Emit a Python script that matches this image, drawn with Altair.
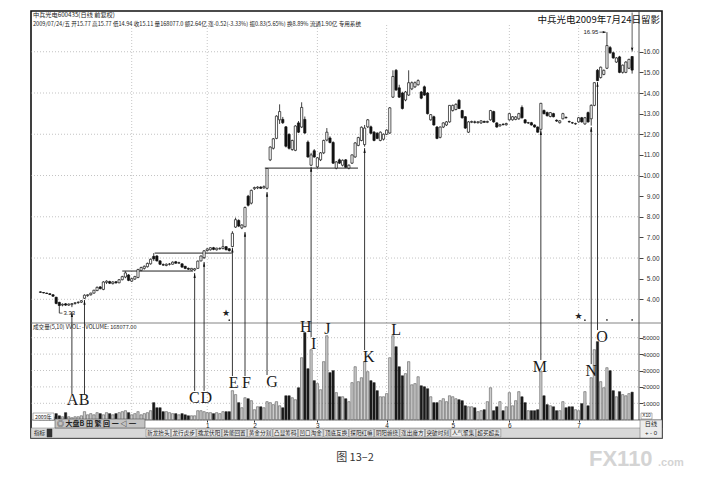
import altair as alt
import pandas as pd

# ---------------- data ----------------
OPEN = [4.36, 4.33, 4.30, 4.27, 4.22, 4.10, 3.85, 3.72, 3.78, 3.72,
        3.74, 3.80, 3.84, 3.86, 4.05, 4.18, 4.22, 4.30, 4.42, 4.60,
        4.48, 4.82, 4.86, 4.76, 4.85, 4.80, 4.95, 5.08, 5.18, 4.88,
        4.98, 5.06, 5.40, 5.50, 5.58, 5.72, 6.08, 6.10, 5.86, 5.68,
        5.64, 5.70, 5.70, 5.82, 5.75, 5.72, 5.60, 5.50, 5.42, 5.42,
        5.50, 5.86, 6.02, 6.36, 6.40, 6.50, 6.40, 6.45, 6.46, 6.55,
        6.45, 6.56, 7.50, 7.82, 7.46, 7.52, 9.00, 8.66, 9.36, 9.40,
        9.44, 9.40, 9.38, 10.76, 11.32, 11.80, 12.70, 12.72, 12.36, 12.00,
        11.26, 11.22, 12.55, 12.35, 12.72, 11.62, 10.50, 11.20, 10.42, 10.76,
        11.10, 11.72, 11.82, 11.60, 10.36, 10.76, 10.50, 10.76, 10.36, 10.60,
        10.90, 11.46, 11.70, 11.50, 12.36, 12.36, 12.10, 12.05, 11.70, 11.76,
        12.00, 12.06, 13.80, 15.10, 14.25, 14.00, 13.66, 13.90, 14.20, 14.30,
        14.40, 14.05, 14.30, 14.00, 12.70, 12.85, 12.35, 11.85, 12.35, 12.45,
        12.60, 13.15, 13.20, 13.65, 13.15, 12.85, 12.10, 12.58, 12.60, 12.56,
        12.55, 12.62, 12.58, 12.70, 13.10, 12.55, 12.40, 12.48, 12.46, 12.70,
        12.70, 12.72, 12.75, 13.30, 12.70, 12.55, 12.56, 12.45, 12.35, 12.24,
        13.15, 13.05, 12.86, 13.00, 12.68, 12.56, 12.75, 12.82, 12.62, 12.56,
        12.50, 12.60, 12.80, 12.50, 13.05, 12.75, 13.40, 15.10, 14.75, 14.90,
        15.20, 16.20, 15.95, 15.50, 15.75, 15.00, 15.00, 15.20, 15.77]
HIGH = [4.38, 4.35, 4.32, 4.29, 4.25, 4.12, 3.88, 3.80, 3.82, 3.80,
        3.82, 3.86, 3.90, 3.96, 4.24, 4.24, 4.32, 4.46, 4.62, 4.64,
        4.88, 4.92, 4.90, 4.88, 4.88, 4.98, 5.14, 5.36, 5.22, 5.04,
        5.14, 5.48, 5.58, 5.64, 5.78, 5.98, 6.24, 6.14, 5.90, 5.74,
        5.74, 5.76, 5.84, 5.86, 5.82, 5.74, 5.62, 5.54, 5.52, 5.52,
        5.88, 6.12, 6.38, 6.48, 6.52, 6.54, 6.50, 6.52, 6.90, 6.58,
        6.48, 7.30, 7.96, 7.88, 7.64, 8.50, 9.06, 9.32, 9.46, 9.48,
        9.48, 9.52, 10.36, 11.42, 11.82, 12.92, 13.45, 12.84, 12.40, 12.04,
        11.74, 12.44, 12.64, 13.55, 12.86, 11.70, 11.10, 11.28, 10.90, 11.14,
        11.74, 12.30, 11.90, 11.66, 10.70, 10.82, 10.78, 10.80, 10.54, 11.02,
        11.62, 11.88, 12.38, 12.45, 12.74, 12.42, 12.16, 12.10, 12.14, 12.04,
        12.24, 13.32, 15.10, 15.16, 14.40, 14.06, 14.10, 15.10, 14.56, 14.56,
        14.66, 14.10, 14.36, 14.04, 12.98, 12.90, 12.40, 12.38, 12.58, 12.64,
        13.42, 13.44, 13.50, 13.70, 13.18, 12.88, 12.64, 12.66, 12.66, 12.64,
        12.68, 12.66, 12.66, 13.18, 13.14, 12.58, 12.50, 12.54, 12.56, 13.02,
        12.88, 12.88, 13.04, 13.40, 12.74, 12.60, 12.60, 12.48, 12.38, 13.52,
        13.20, 13.10, 13.08, 13.04, 12.72, 12.68, 13.04, 12.86, 12.66, 12.60,
        12.56, 12.84, 12.84, 12.84, 13.10, 13.45, 14.52, 15.16, 15.28, 15.14,
        16.95, 16.28, 16.00, 15.74, 15.80, 15.38, 15.54, 15.66, 15.77]
LOW = [4.32, 4.29, 4.26, 4.21, 4.12, 3.76, 3.33, 3.66, 3.68, 3.68,
       3.62, 3.74, 3.78, 3.82, 4.02, 4.12, 4.18, 4.28, 4.40, 4.48,
       4.44, 4.74, 4.74, 4.72, 4.76, 4.78, 4.92, 5.02, 4.88, 4.84,
       4.94, 5.02, 5.36, 5.44, 5.54, 5.68, 5.86, 5.84, 5.66, 5.62,
       5.60, 5.64, 5.68, 5.72, 5.72, 5.54, 5.46, 5.42, 5.40, 5.36,
       5.48, 5.84, 5.95, 6.32, 6.36, 6.38, 6.36, 6.40, 6.42, 6.38,
       6.32, 6.54, 7.46, 7.50, 7.40, 7.48, 8.50, 8.60, 9.30, 9.34,
       9.36, 9.36, 9.32, 10.70, 11.26, 11.76, 12.50, 12.50, 11.36, 11.26,
       11.20, 11.18, 12.06, 12.30, 12.02, 10.86, 10.45, 10.86, 10.36, 10.70,
       11.04, 11.66, 11.56, 10.56, 10.30, 10.56, 10.44, 10.38, 10.30, 10.56,
       10.86, 11.42, 11.66, 11.40, 12.30, 12.00, 11.66, 11.76, 11.66, 11.70,
       11.96, 12.02, 13.76, 14.10, 13.76, 13.20, 13.60, 13.86, 14.14, 14.24,
       14.36, 13.70, 13.86, 12.96, 12.66, 12.42, 11.76, 11.80, 12.30, 12.40,
       12.56, 13.10, 13.16, 13.22, 12.76, 12.26, 12.06, 12.54, 12.52, 12.52,
       12.50, 12.56, 12.54, 12.66, 12.56, 12.32, 12.38, 12.44, 12.42, 12.66,
       12.66, 12.68, 12.70, 12.76, 12.52, 12.50, 12.42, 12.32, 12.08, 12.22,
       12.96, 12.86, 12.82, 12.82, 12.60, 12.52, 12.72, 12.76, 12.56, 12.50,
       12.46, 12.56, 12.56, 12.46, 12.56, 12.42, 13.36, 14.58, 14.70, 14.86,
       15.16, 15.90, 15.66, 15.46, 14.96, 14.94, 14.96, 15.16, 14.94]
CLOSE = [4.34, 4.31, 4.28, 4.23, 4.15, 3.80, 3.70, 3.76, 3.72, 3.77,
         3.79, 3.83, 3.86, 3.93, 4.20, 4.22, 4.30, 4.44, 4.58, 4.52,
         4.84, 4.88, 4.78, 4.84, 4.80, 4.95, 5.10, 5.28, 4.92, 5.00,
         5.10, 5.44, 5.54, 5.60, 5.74, 5.94, 5.96, 5.86, 5.70, 5.66,
         5.70, 5.71, 5.80, 5.75, 5.78, 5.56, 5.50, 5.46, 5.50, 5.48,
         5.85, 6.10, 6.35, 6.44, 6.50, 6.42, 6.48, 6.47, 6.55, 6.40,
         6.36, 7.20, 7.86, 7.55, 7.60, 8.45, 8.56, 9.28, 9.42, 9.44,
         9.38, 9.46, 10.34, 11.38, 11.78, 12.88, 13.10, 12.56, 11.42, 11.32,
         11.70, 12.40, 12.10, 13.30, 12.06, 10.90, 11.00, 10.90, 10.86, 11.10,
         11.70, 12.10, 11.60, 10.60, 10.66, 10.60, 10.74, 10.40, 10.50, 11.00,
         11.58, 11.84, 12.34, 12.30, 12.70, 12.05, 11.70, 11.80, 12.10, 12.00,
         12.20, 13.28, 14.80, 14.15, 13.80, 13.25, 14.05, 14.50, 14.50, 14.50,
         14.60, 13.75, 13.90, 13.00, 12.95, 12.45, 11.80, 12.35, 12.55, 12.60,
         13.40, 13.40, 13.45, 13.25, 12.80, 12.30, 12.60, 12.62, 12.58, 12.60,
         12.65, 12.58, 12.62, 13.15, 12.60, 12.35, 12.46, 12.46, 12.52, 13.00,
         12.85, 12.84, 13.00, 12.80, 12.55, 12.56, 12.45, 12.35, 12.10, 13.50,
         13.00, 12.90, 13.05, 12.85, 12.64, 12.65, 13.00, 12.80, 12.60, 12.55,
         12.52, 12.80, 12.60, 12.80, 12.60, 13.40, 14.50, 14.60, 15.25, 15.10,
         16.30, 15.95, 15.70, 15.70, 15.00, 15.35, 15.50, 15.63, 15.11]
VOLUME = [12000, 12000, 18000, 12000, 18000, 37000, 24000, 18000, 43000, 18000,
          12000, 18000, 18000, 24000, 49000, 30000, 37000, 30000, 43000, 37000,
          30000, 43000, 37000, 30000, 37000, 43000, 49000, 55000, 43000, 30000,
          37000, 49000, 30000, 37000, 43000, 55000, 104000, 73000, 73000, 49000,
          49000, 43000, 37000, 37000, 30000, 37000, 30000, 24000, 24000, 24000,
          55000, 55000, 49000, 43000, 43000, 37000, 43000, 37000, 49000, 49000,
          49000, 177000, 153000, 104000, 73000, 134000, 128000, 116000, 61000, 79000,
          79000, 73000, 110000, 104000, 92000, 110000, 85000, 73000, 146000, 146000,
          134000, 122000, 195000, 378000, 531000, 311000, 427000, 238000, 220000, 183000,
          354000, 512000, 287000, 299000, 165000, 140000, 140000, 128000, 110000, 226000,
          323000, 232000, 256000, 354000, 293000, 238000, 226000, 177000, 140000, 140000,
          159000, 378000, 512000, 445000, 323000, 268000, 281000, 354000, 213000, 220000,
          262000, 207000, 201000, 189000, 140000, 104000, 104000, 116000, 128000, 110000,
          146000, 140000, 128000, 122000, 116000, 85000, 79000, 79000, 73000, 49000,
          55000, 61000, 110000, 195000, 55000, 79000, 110000, 55000, 79000, 165000,
          85000, 116000, 171000, 140000, 104000, 55000, 55000, 55000, 61000, 293000,
          146000, 92000, 85000, 79000, 55000, 55000, 110000, 73000, 79000, 79000,
          61000, 55000, 98000, 171000, 85000, 256000, 427000, 476000, 232000, 195000,
          317000, 299000, 177000, 140000, 171000, 153000, 146000, 159000, 168077]

MONTH_IDX = [53, 68, 88, 110, 131, 149, 171]
MONTH_TXT = ["1", "2", "3", "4", "5", "6", "7"]
VGRID_IDX = [29, 53, 88, 110, 149, 171]
PRICE_TICKS = [4, 5, 6, 7, 8, 9, 10, 11, 12, 13, 14, 15, 16]
PRICE_GRID = [4, 6, 8, 10, 12, 14, 16]
VOL_TICKS = [100000, 200000, 300000, 400000, 500000]

LEVEL_FROM = [26.0, 36.3, 71.3]
LEVEL_TO = [48.5, 60.8, 100.9]
LEVEL_PRICE = [5.37, 6.24, 10.36]

ARROW_NAME = ["A", "B", "C", "D", "E", "F", "G", "I", "K", "M", "N", "O"]
ARROW_IDX = [10, 14, 49, 52, 61, 65, 72, 86, 103, 159, 175, 177]
ARROW_TIP = [3.38, 3.97, 5.27, 5.81, 6.50, 7.26, 9.20, 10.41, 11.33, 12.20, 12.35, 14.53]
ARROW_BASE = [-0.59, -0.59, -0.44, -0.44, 0.28, 0.28, 0.33, 2.17, 1.54, 1.06, 0.86, 2.51]

LETTER = list("ABCDEFGHIJKLMNO")
LETTER_X = [10.2, 13.9, 48.9, 52.7, 61.4, 65.5, 73.6, 84.3, 86.8, 91.2, 104.3, 113.0, 158.7, 175.0, 178.4]
LETTER_Y = [-0.88, -0.88, -0.78, -0.78, -0.06, -0.06, -0.01, 2.66, 1.83, 2.56, 1.20, 2.51, 0.72, 0.53, 2.17]

STAR_IDX = [59, 171]
STAR_P = [3.34, 3.19]
DOT_IDX = [60, 173, 180, 188]
DOT_P = [2.99, 2.99, 3.00, 3.00]

TABS = ["新龙抬头", "龙行虎步", "擒龙伏阳", "势能回置", "黄金分割", "凸显筹码", "凹口淘金",
        "顶底互换", "探阳红嘛", "阴阳缠绕", "涨出魔方", "突破时刻", "人气聚集", "超买超卖"]

# ---------------- geometry / styles ----------------
W, H = 631, 427
CJK = "Noto Sans CJK SC"
SANS = "Liberation Sans"
SERIF = "Liberation Serif"

XS = alt.Scale(domain=[-1.407, 195.904], nice=False, zero=False)
PS = alt.Scale(domain=[-2.723, 17.975], nice=False, zero=False)
VS = alt.Scale(domain=[-111585, 2492073], nice=False, zero=False)

month_expr = " : ".join(f"datum.value == {i} ? '{t}'" for i, t in zip(MONTH_IDX, MONTH_TXT)) + " : ''"
XAXIS = alt.Axis(values=MONTH_IDX, labelExpr=month_expr, orient="bottom", offset=-18,
                 domain=False, grid=False, ticks=True, tickSize=2, tickColor="#333",
                 labelFontSize=6.5, labelFont=SANS, labelColor="#222", labelPadding=0,
                 labelAngle=0, title=None, zindex=1)
PAXIS = alt.Axis(values=PRICE_TICKS, format=".2f", orient="right", offset=-23,
                 domain=False, grid=False, ticks=True, tickSize=4, tickColor="#444",
                 labelAlign="right", labelPadding=16, labelFontSize=6.5, labelFont=SANS,
                 labelColor="#333", labelBaseline="middle", title=None, zindex=1)
VAXIS = alt.Axis(values=VOL_TICKS, labelExpr="format(datum.value / 10, 'd')", orient="right",
                 offset=-23, domain=False, grid=False, ticks=True, tickSize=4, tickColor="#444",
                 labelAlign="right", labelPadding=16, labelFontSize=6, labelFont=SANS,
                 labelColor="#333", labelBaseline="middle", title=None, zindex=1)


def X(f):
    return alt.X(f, type="quantitative", scale=XS, axis=XAXIS)


def YP(f, axis=None):
    return alt.Y(f, type="quantitative", scale=PS, axis=axis)


def YV(f, axis=None):
    return alt.Y(f, type="quantitative", scale=VS, axis=axis)


# ---------------- tables ----------------
N = len(CLOSE)
df = pd.DataFrame({"i": list(range(N)), "o": OPEN, "h": HIGH, "l": LOW, "c": CLOSE, "v": VOLUME})
df["up"] = df["c"] >= df["o"]
df["lo"] = df[["o", "c"]].min(axis=1)
df["hi"] = df[["o", "c"]].max(axis=1)
df["zero"] = 0
df["bfill"] = df["up"].map({True: "#ffffff", False: "#111111"})
df["vfill"] = df["up"].map({True: "#cdcdcd", False: "#1a1a1a"})
df["vstroke"] = df["up"].map({True: "#444444", False: "#1a1a1a"})

ONE = pd.DataFrame({"k": [0]})
pgrid = pd.DataFrame({"p": PRICE_GRID})
vgrid = pd.DataFrame({"v": VOL_TICKS})
mgrid = pd.DataFrame({"g": VGRID_IDX})
levels = pd.DataFrame({"a": LEVEL_FROM, "b": LEVEL_TO, "p": LEVEL_PRICE})
arrows = pd.DataFrame({"n": ARROW_NAME, "x": ARROW_IDX, "tip": ARROW_TIP, "base": ARROW_BASE})
letters = pd.DataFrame({"t": LETTER, "x": LETTER_X, "y": LETTER_Y})
stars = pd.DataFrame({"x": STAR_IDX, "p": STAR_P})
dots = pd.DataFrame({"x": DOT_IDX, "p": DOT_P})

lo_i = int(df["l"].idxmin())
hi_i = int(df["h"].idxmax())
extremes_lo = pd.DataFrame({"x": [lo_i], "x2": [lo_i + 1.0], "p": [LOW[lo_i]], "t": [f"{LOW[lo_i]:.2f}"]})
extremes_hi = pd.DataFrame({"x": [hi_i - 2.4], "x2": [hi_i - 0.35], "p": [HIGH[hi_i]], "t": [f"{HIGH[hi_i]:.2f}"]})
last_i = N - 1
cursor = pd.DataFrame({"x": [last_i], "p1": [HIGH[last_i] + 0.45], "p2": [17.9], "pa": [HIGH[last_i] + 0.2]})


def txt(s, x, y, size=6.0, align="left", font=CJK, color="#222", weight="normal", **kw):
    return alt.Chart(ONE).mark_text(text=s, align=align, baseline="middle", fontSize=size, font=font,
                                    color=color, fontWeight=weight, **kw).encode(
        x=alt.value(x), y=alt.value(y))


def box(x0, x1, y0, y1, fill, stroke="#666", sw=0.6):
    return alt.Chart(ONE).mark_rect(fill=fill, stroke=stroke, strokeWidth=sw).encode(
        x=alt.value(x0), x2=alt.value(x1), y=alt.value(y0), y2=alt.value(y1))


def hline(x0, x1, y, color="#555", sw=0.8):
    return alt.Chart(ONE).mark_rule(color=color, strokeWidth=sw).encode(
        x=alt.value(x0), x2=alt.value(x1), y=alt.value(y))


layers = []

# grids
layers.append(alt.Chart(pgrid).mark_rule(color="#9a9a9a", strokeWidth=0.6, strokeDash=[1, 2]).encode(
    y=YP("p"), x=alt.value(0), x2=alt.value(608)))
layers.append(alt.Chart(vgrid).mark_rule(color="#9a9a9a", strokeWidth=0.6, strokeDash=[1, 2]).encode(
    y=YV("v"), x=alt.value(0), x2=alt.value(608)))
layers.append(alt.Chart(mgrid).mark_rule(color="#a0a0a0", strokeWidth=0.6, strokeDash=[1, 2]).encode(
    x=X("g"), y=alt.value(14), y2=alt.value(409)))

# panel separators and axis line
layers.append(hline(0, W, 312, "#666", 0.8))
layers.append(hline(0, W, 409, "#555", 0.8))
layers.append(alt.Chart(ONE).mark_rule(color="#444", strokeWidth=0.9).encode(
    x=alt.value(608), y=alt.value(0), y2=alt.value(409)))

# resistance levels
layers.append(alt.Chart(levels).mark_rule(color="#222", strokeWidth=1.0).encode(
    x=X("a"), x2="b:Q", y=YP("p")))

# candles
layers.append(alt.Chart(df).mark_rule(color="#111", strokeWidth=0.8).encode(
    x=X("i"), y=YP("l", PAXIS), y2="h:Q"))
layers.append(alt.Chart(df).mark_bar(size=2.2, stroke="#111", strokeWidth=0.7).encode(
    x=X("i"), y=YP("lo"), y2="hi:Q", fill=alt.Fill("bfill:N", scale=None)))

# volume
layers.append(alt.Chart(df).mark_bar(size=2.3, strokeWidth=0.5).encode(
    x=X("i"), y=YV("v", VAXIS), y2="zero:Q",
    fill=alt.Fill("vfill:N", scale=None), stroke=alt.Stroke("vstroke:N", scale=None)))

# extremes
layers.append(alt.Chart(extremes_lo).mark_rule(color="#222", strokeWidth=0.7).encode(
    x=X("x"), x2="x2:Q", y=YP("p")))
layers.append(alt.Chart(extremes_lo).mark_text(align="left", baseline="middle", dx=1, fontSize=6,
                                               font=SANS, color="#222").encode(
    x=X("x2"), y=YP("p"), text="t:N"))
layers.append(alt.Chart(extremes_hi).mark_rule(color="#222", strokeWidth=0.7).encode(
    x=X("x"), x2="x2:Q", y=YP("p")))
layers.append(alt.Chart(extremes_hi).mark_point(shape="M0,0L-2.2,-0.8L-2.2,0.8Z", size=8, filled=True,
                                                color="#111", opacity=1).encode(
    x=X("x2"), y=YP("p")))
layers.append(alt.Chart(extremes_hi).mark_text(align="right", baseline="middle", dx=-1, fontSize=6,
                                               font=SANS, color="#222").encode(
    x=X("x"), y=YP("p"), text="t:N"))

# last-bar cursor
layers.append(alt.Chart(cursor).mark_rule(color="#333", strokeWidth=0.8).encode(
    x=X("x"), y=YP("p1"), y2="p2:Q"))
layers.append(alt.Chart(cursor).mark_point(shape="M0,0L-0.6,-2.4L0.6,-2.4Z", size=16, filled=True,
                                           color="#111", opacity=1).encode(
    x=X("x"), y=YP("pa")))

# arrows and letters
layers.append(alt.Chart(arrows).mark_rule(color="#222", strokeWidth=0.9).encode(
    x=X("x"), y=YP("base"), y2="tip:Q"))
layers.append(alt.Chart(arrows).mark_point(shape="M0,0L-0.55,2.4L0.55,2.4Z", size=16, filled=True,
                                           color="#111", opacity=1).encode(
    x=X("x"), y=YP("tip")))
layers.append(alt.Chart(letters).mark_text(font=SERIF, fontSize=16, color="#1a1a1a", baseline="middle",
                                           align="center").encode(
    x=X("x"), y=YP("y"), text="t:N"))

# signals
layers.append(alt.Chart(stars).mark_text(text="★", fontSize=9, font="DejaVu Sans", color="#222",
                                         baseline="middle").encode(x=X("x"), y=YP("p")))
layers.append(alt.Chart(dots).mark_point(size=3, filled=True, color="#333", opacity=1).encode(
    x=X("x"), y=YP("p")))

# header texts
chg = CLOSE[-1] - CLOSE[-2]
pct = chg / CLOSE[-2] * 100
head2 = (f"2009/07/24/五 开{OPEN[-1]:.2f} 高{HIGH[-1]:.2f} 低{LOW[-1]:.2f} 收{CLOSE[-1]:.2f} "
         f"量{VOLUME[-1]:.1f} 额2.64亿 涨{chg:.2f}({pct:.2f}%) 振0.83(5.65%) 换8.89% 流通1.90亿 专用系统")
layers.append(txt("中兵光电600435(日线 前复权)", 2, 4, 6.2))
layers.append(txt(head2, 2, 12.5, 5.6))
layers.append(txt("中兵光电2009年7月24日留影", 629, 9, 9.5, align="right", color="#111"))
layers.append(txt(f"成交量(5,10) VVOL:  -  VOLUME: {VOLUME[-1]:.2f}", 2, 316, 5.6))

# bottom bar
layers.append(box(0, W, 417, H, "#d8d8d8", "#777", 0.5))
for k, name in enumerate(TABS):
    x0 = 115 + 25.4 * k
    layers.append(box(x0, x0 + 24.6, 418, 426, "#ececec", "#707070", 0.5))
    layers.append(txt(name, x0 + 12.3, 422, 5.6, align="center", color="#222"))
layers.append(box(2, 23, 402, 409, "#ffffff", "#666", 0.5))
layers.append(txt("2009年", 4, 405.5, 5.2))
layers.append(txt("指标", 3, 421.5, 5.6))
layers.append(box(16, 21, 418, 426, "#333", "#333", 0.5))
layers.append(box(24, 114, 408, 417, "#c4c4c4", "#555", 0.6))
layers.append(txt("◎ 大盘B  田 繁 回 一 ◁ ━", 26, 412.5, 7, color="#222", weight="bold"))
layers.append(box(610, 621, 402, 408, "#ffffff", "#666", 0.5))
layers.append(txt("X10", 615.5, 405, 4.8, align="center", font=SANS))
layers.append(box(609, W, 409, H, "#ececec", "#666", 0.5))
layers.append(txt("日线", 620, 413, 6.2, align="center"))
layers.append(txt("+ - 0", 620, 422, 6.0, align="center", font=SANS))

# caption and watermark
layers.append(txt("图 13–2", 324, 447, 11, align="center", color="#333"))
layers.append(txt("FX110", 558, 448, 22, font=SANS, color="#d4d4d4", weight="bold"))
layers.append(txt(".com", 627, 452, 11, font=SANS, color="#d4d4d4", weight="bold"))

chart = alt.layer(*layers).resolve_scale(y="independent").properties(
    width=W, height=H,
    autosize=alt.AutoSizeParams(type="none"),
    padding={"left": 23, "top": 3, "right": 30, "bottom": 34},
    background="white",
).configure_view(stroke="#111", strokeWidth=1.6)

chart.save("out.html", embed_options={"renderer": "svg", "actions": False})
